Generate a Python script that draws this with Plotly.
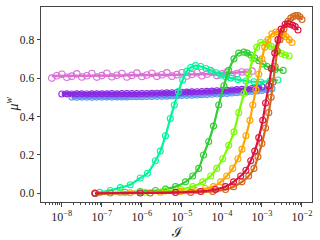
import numpy as np
import plotly.graph_objects as go

# ---- data (log10 of I, and mu^w) ----
log_I_orchid = [-8.25 + 0.125 * i for i in range(41)]
mu_orchid = [0.600, 0.612, 0.620, 0.604, 0.610, 0.622, 0.606, 0.612, 0.624, 0.605,
             0.613, 0.625, 0.607, 0.615, 0.624, 0.606, 0.614, 0.626, 0.608, 0.616,
             0.625, 0.609, 0.617, 0.627, 0.610, 0.618, 0.628, 0.611, 0.619, 0.628,
             0.612, 0.621, 0.630, 0.614, 0.622, 0.631, 0.616, 0.624, 0.632, 0.630, 0.636]
log_I_orchid_fit = [-8.25, -6.5, -5.0, -4.0, -3.25]
mu_orchid_fit = [0.611, 0.614, 0.618, 0.624, 0.636]

log_I_purple = [-8.0 + 0.125 * i for i in range(41)]
mu_purple = [0.517, 0.518, 0.517, 0.518, 0.518, 0.517, 0.518, 0.518,
             0.518, 0.518, 0.519, 0.518, 0.519, 0.519, 0.519, 0.519,
             0.520, 0.520, 0.521, 0.521, 0.522, 0.523, 0.524, 0.525,
             0.526, 0.527, 0.528, 0.529, 0.530, 0.531, 0.532, 0.534,
             0.535, 0.536, 0.538, 0.540, 0.541, 0.543, 0.546, 0.549, 0.554]

log_I_blue = [-7.75 + 0.125 * i for i in range(41)]
mu_blue = [0.501, 0.500, 0.501, 0.501, 0.500, 0.501, 0.501, 0.502,
           0.501, 0.502, 0.502, 0.502, 0.503, 0.503, 0.503, 0.504,
           0.504, 0.505, 0.505, 0.506, 0.507, 0.508, 0.509, 0.510,
           0.511, 0.512, 0.513, 0.514, 0.516, 0.517, 0.519, 0.520,
           0.522, 0.524, 0.526, 0.528, 0.531, 0.533, 0.536, 0.540, 0.545]

log_I_spring = [-7.17, -7.05, -6.79, -6.54, -6.29, -6.04, -5.86, -5.66, -5.54, -5.41,
                -5.29, -5.19, -5.09, -4.98, -4.88, -4.78, -4.66, -4.53, -4.40, -4.28,
                -4.15, -4.03, -3.90, -3.78, -3.60, -3.40, -3.20, -3.03, -2.80, -2.60]
mu_spring = [0.000, 0.005, 0.015, 0.030, 0.045, 0.080, 0.105, 0.170, 0.220, 0.300,
             0.390, 0.460, 0.530, 0.590, 0.635, 0.655, 0.665, 0.660, 0.650, 0.640,
             0.628, 0.615, 0.607, 0.600, 0.592, 0.585, 0.581, 0.580, 0.584, 0.590]

log_I_lime = [-7.17, -6.79, -6.42, -6.04, -5.66, -5.41, -5.16, -4.91, -4.73, -4.58,
              -4.46, -4.33, -4.21, -4.08, -3.95, -3.83, -3.70, -3.58, -3.45, -3.37,
              -3.28, -3.18, -3.08, -2.97, -2.87, -2.77, -2.67, -2.47]
mu_lime = [0.000, 0.002, 0.006, 0.010, 0.015, 0.022, 0.035, 0.060, 0.090, 0.130,
           0.200, 0.270, 0.350, 0.460, 0.560, 0.640, 0.700, 0.730, 0.735, 0.730,
           0.720, 0.705, 0.690, 0.673, 0.660, 0.650, 0.645, 0.640]

log_I_lawn = [-7.17, -6.54, -5.91, -5.41, -5.03, -4.73, -4.48, -4.28, -4.13, -3.98,
              -3.83, -3.70, -3.58, -3.45, -3.33, -3.23, -3.13, -3.03, -2.91, -2.84,
              -2.77, -2.68, -2.60, -2.51, -2.42, -2.32]
mu_lawn = [0.000, 0.003, 0.006, 0.012, 0.020, 0.035, 0.060, 0.090, 0.130, 0.180,
           0.250, 0.320, 0.420, 0.520, 0.620, 0.700, 0.760, 0.785, 0.785, 0.775,
           0.765, 0.752, 0.740, 0.728, 0.720, 0.715]

log_I_orange = [-7.17, -6.29, -5.54, -5.03, -4.66, -4.41, -4.21, -4.03, -3.88, -3.73,
                -3.60, -3.50, -3.40, -3.30, -3.23, -3.15, -3.08, -3.00, -2.93, -2.85,
                -2.75, -2.65, -2.58, -2.52, -2.46, -2.40, -2.32, -2.25]
mu_orange = [0.000, 0.003, 0.006, 0.010, 0.015, 0.025, 0.035, 0.060, 0.090, 0.130,
             0.180, 0.230, 0.300, 0.380, 0.460, 0.540, 0.620, 0.700, 0.760, 0.800,
             0.830, 0.840, 0.840, 0.835, 0.826, 0.815, 0.800, 0.785]

log_I_crimson = [-7.17, -6.04, -5.16, -4.53, -4.16, -3.91, -3.71, -3.53, -3.40, -3.28,
                 -3.18, -3.08, -2.98, -2.91, -2.83, -2.76, -2.68, -2.60, -2.52, -2.42,
                 -2.36, -2.30, -2.23, -2.17, -2.10]
mu_crimson = [0.000, 0.002, 0.005, 0.010, 0.020, 0.035, 0.060, 0.090, 0.120, 0.170,
              0.220, 0.290, 0.380, 0.470, 0.560, 0.650, 0.730, 0.800, 0.855, 0.880,
              0.883, 0.880, 0.875, 0.868, 0.850]

log_I_choc = [-7.17, -5.79, -4.78, -4.23, -3.91, -3.71, -3.50, -3.33, -3.20, -3.10,
              -3.00, -2.91, -2.83, -2.77, -2.72, -2.67, -2.62, -2.55, -2.45, -2.35,
              -2.28, -2.22, -2.16, -2.10, -2.05, -2.00]
mu_choc = [0.000, 0.002, 0.005, 0.010, 0.020, 0.035, 0.060, 0.090, 0.130, 0.190,
           0.260, 0.340, 0.420, 0.500, 0.580, 0.660, 0.740, 0.800, 0.855, 0.895,
           0.912, 0.920, 0.925, 0.925, 0.918, 0.905]

x_tick_exponents = [-8, -7, -6, -5, -4, -3, -2]
y_tick_values = [0.0, 0.2, 0.4, 0.6, 0.8]
x_label = "\u2110"
y_label = "<i>\u03bc</i><sup><i>w</i></sup>"

# ---- figure ----
fig = go.Figure()

def to_I(logs):
    return [10.0 ** v for v in logs]

# orchid: noisy markers with smooth line
fig.add_trace(go.Scatter(x=to_I(log_I_orchid_fit), y=mu_orchid_fit, mode="lines",
                         line=dict(color="#DA70D6", width=2.5, shape="spline")))
fig.add_trace(go.Scatter(x=to_I(log_I_orchid), y=mu_orchid, mode="markers",
                         marker=dict(symbol="circle-open", size=6.5, color="#DA70D6",
                                     line=dict(width=1.1))))

series = [
    (log_I_blue, mu_blue, "#6495ED", 4),
    (log_I_purple, mu_purple, "#8A2BE2", 4),
    (log_I_spring, mu_spring, "#00F59A", 2.2),
    (log_I_lime, mu_lime, "#32CD32", 2.2),
    (log_I_lawn, mu_lawn, "#7CFC00", 2.2),
    (log_I_orange, mu_orange, "#FFA500", 2.2),
    (log_I_choc, mu_choc, "#D2691E", 2.2),
    (log_I_crimson, mu_crimson, "#DC143C", 2.2),
]
for lg, mu, col, lw in series:
    fig.add_trace(go.Scatter(x=to_I(lg), y=mu, mode="lines+markers",
                             line=dict(color=col, width=lw, shape="spline"),
                             marker=dict(symbol="circle-open", size=6, color=col,
                                         line=dict(width=1.1))))

minor_vals = [m * 10.0 ** e for e in range(-9, -1) for m in range(2, 10)]

fig.update_layout(
    width=320, height=240,
    margin=dict(l=41, r=8, t=7, b=38),
    paper_bgcolor="white", plot_bgcolor="white",
    showlegend=False,
    font=dict(family="Liberation Serif", size=11, color="#222"),
)
fig.update_xaxes(
    type="log", range=[-8.52, -1.75], automargin=False,
    tickvals=[10.0 ** e for e in x_tick_exponents],
    ticktext=["10<sup>\u2212%d</sup>" % (-e) for e in x_tick_exponents],
    tickfont=dict(size=12),
    ticks="outside", ticklen=3.5, tickwidth=1, tickcolor="#444",
    minor=dict(tickvals=minor_vals, ticks="outside", ticklen=2, tickwidth=0.8, tickcolor="#444"),
    showline=True, linecolor="#444", linewidth=1, mirror=True,
    showgrid=False, zeroline=False,
)
fig.update_yaxes(
    range=[-0.045, 0.97], automargin=False,
    tickvals=y_tick_values, ticktext=["%.1f" % v for v in y_tick_values],
    tickfont=dict(size=11.5),
    ticks="outside", ticklen=3.5, tickwidth=1, tickcolor="#444",
    showline=True, linecolor="#444", linewidth=1, mirror=True,
    showgrid=False, zeroline=False,
)
fig.add_annotation(text=x_label, xref="paper", yref="paper", x=0.5, y=-0.1,
                   xanchor="center", yanchor="top", showarrow=False,
                   font=dict(size=14, family="DejaVu Serif", color="#222"))
fig.add_annotation(text=y_label, xref="paper", yref="paper", x=-0.107, y=0.5,
                   xanchor="center", yanchor="middle", showarrow=False, textangle=-90,
                   font=dict(size=14, family="Liberation Serif", color="#222"))

fig.write_html("out.html", config={"displayModeBar": False},
               post_script="document.body.style.margin='0';document.body.style.overflow='hidden';")
